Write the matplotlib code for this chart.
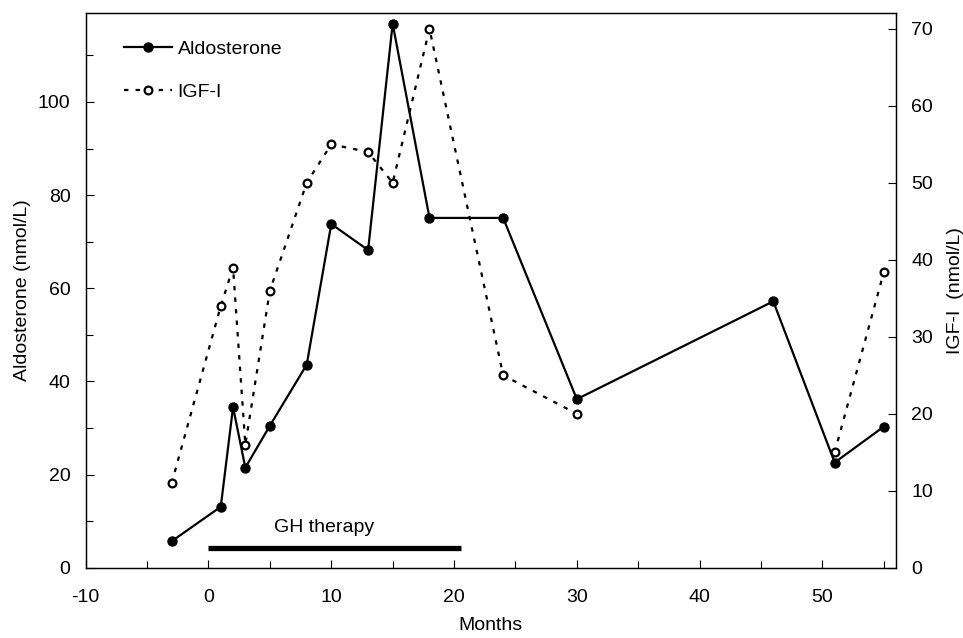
import matplotlib
matplotlib.use("Agg")
import numpy as np
import matplotlib.pyplot as plt
from matplotlib.ticker import MultipleLocator

plt.rcParams['font.family'] = ['Liberation Sans', 'DejaVu Sans']
plt.rcParams['axes.unicode_minus'] = False

# data
aldo_months = [-3, 1, 2, 3, 5, 8, 10, 13, 15, 18, 24, 30, 46, 51, 55]
aldo_values = [5.7, 13.1, 34.5, 21.5, 30.5, 43.6, 73.8, 68.2, 116.8, 75.1, 75.1, 36.2, 57.2, 22.6, 30.3]

# no IGF-I measurement at month 46 -> gap in the line
igf_months = [-3, 1, 2, 3, 5, 8, 10, 13, 15, 18, 24, 30, 46, 51, 55]
igf_values = [11.0, 34.0, 39.0, 16.0, 36.0, 50.0, 55.0, 54.0, 50.0, 70.0, 25.0, 20.0, np.nan, 15.0, 38.4]

gh_start, gh_end = 0, 20.6
gh_level = 4.3  # aldosterone units

FS = 14

fig = plt.figure(figsize=(9.63, 6.38), dpi=100)
ax = fig.add_axes([0.089, 0.110, 0.8415, 0.869])
ax2 = ax.twinx()

l1, = ax.plot(aldo_months, aldo_values, color='black', lw=1.6, marker='o',
              markersize=6.5, markerfacecolor='black', label='Aldosterone', zorder=3)
l2, = ax2.plot(igf_months, igf_values, color='black', lw=1.6, linestyle=(0, (2, 3.2)),
               marker='o', markersize=5.6, markerfacecolor='white', markeredgewidth=1.6,
               label='IGF-I', zorder=3)

ax.plot([gh_start, gh_end], [gh_level, gh_level], color='black', lw=3.8, solid_capstyle='butt')
ax.text(9.4, gh_level + 2.6, 'GH therapy', ha='center', va='bottom', fontsize=FS)

ax.set_xlim(-10, 56)
ax.set_ylim(0, 119)
ax2.set_ylim(0, 72)

ax.xaxis.set_major_locator(MultipleLocator(10))
ax.xaxis.set_minor_locator(MultipleLocator(5))
ax.yaxis.set_major_locator(MultipleLocator(20))
ax.yaxis.set_minor_locator(MultipleLocator(10))
ax2.yaxis.set_major_locator(MultipleLocator(10))

for a in (ax, ax2):
    a.tick_params(which='both', direction='in', labelsize=FS, width=0.8)
    a.tick_params(which='major', length=6)
    a.tick_params(which='minor', length=5)
    for s in a.spines.values():
        s.set_linewidth(0.9)
ax.tick_params(axis='x', pad=15)
ax.tick_params(axis='y', pad=11)
ax2.tick_params(axis='y', pad=11)

ax.set_xlabel('Months', fontsize=FS, labelpad=8)
ax.set_ylabel('Aldosterone (nmol/L)', fontsize=FS, labelpad=5)
ax2.set_ylabel('IGF-I  (nmol/L)', fontsize=FS, labelpad=10)

ax.legend(handles=[l1, l2], loc='upper left', frameon=False, fontsize=FS,
          bbox_to_anchor=((124 - 85.7) / 810.3, (567.7 - 40) / 554.4),
          borderpad=0, borderaxespad=0,
          handlelength=2.45, handletextpad=0.3, labelspacing=1.3)

fig.savefig('out.png', dpi=100)
